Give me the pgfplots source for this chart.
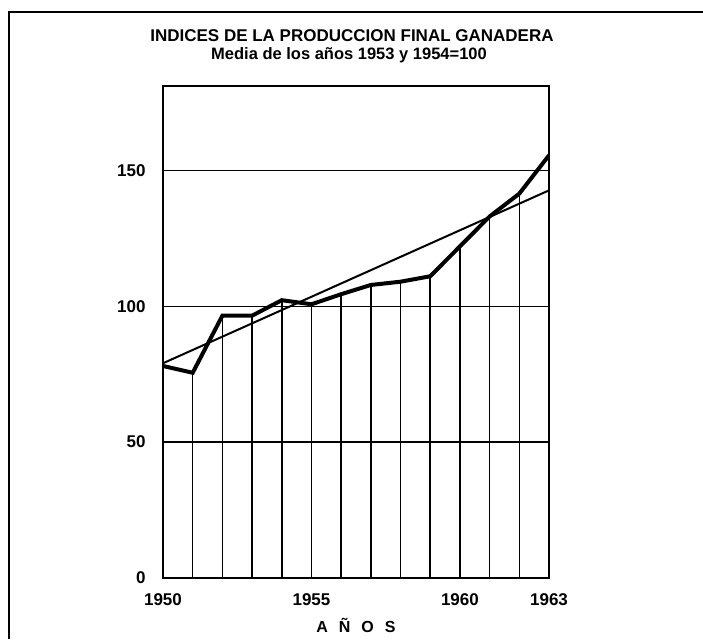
\documentclass[border=0pt]{standalone}
\usepackage{fontspec}
\setmainfont{Liberation Sans}
\usepackage{pgfplots}
\pgfplotsset{compat=1.18}

% indices de la produccion final ganadera (media 1953-1954 = 100)
\pgfplotstableread{
year  idx
1950  78
1951  75.5
1952  96.5
1953  96.5
1954  102.2
1955  100.7
1956  104.4
1957  107.8
1958  109
1959  111
1960  122
1961  133
1962  141.4
1963  155.5
}\indices

\pgfplotstableread{
year  idx
1951  75.5
1952  96.5
1953  96.5
1954  102.2
1955  100.7
1956  104.4
1957  107.8
1958  109
1959  111
1960  122
1961  133
1962  141.4
}\verticals

\begin{document}
\begin{tikzpicture}[x=1pt,y=1pt]
\useasboundingbox (0,0) rectangle (703,639);
% outer frame (left and top only)
\draw[line width=2.5pt] (9,0) -- (9,627) -- (703,627);
\node[font=\bfseries\fontsize{17}{18}\selectfont, anchor=base] at (352,597)
  {INDICES DE LA PRODUCCION FINAL GANADERA};
\node[font=\bfseries\fontsize{16.5}{18}\selectfont, anchor=base] at (349,579)
  {Media de los años 1953 y 1954=100};
\begin{axis}[
  at={(163pt,61pt)}, anchor=south west,
  scale only axis,
  width=386pt, height=492pt,
  xmin=1950, xmax=1963,
  ymin=0, ymax=181,
  xtick={1950,1955,1960,1963},
  xticklabels={1950,1955,1960,1963},
  ytick={0,50,100,150},
  major tick length=0pt,
  ymajorgrids=true,
  grid style={black, line width=1.2pt},
  axis line style={line width=2.5pt},
  /pgf/number format/assume math mode=true,
  /pgf/number format/1000 sep={},
  tick label style={font=\bfseries\fontsize{17}{17}\selectfont},
  yticklabel style={xshift=-14pt},
  xticklabel style={yshift=-12pt},
  xlabel={A\hspace{11pt}Ñ\hspace{11pt}O\hspace{11pt}S},
  xlabel style={at={(axis description cs:0.5,0)}, anchor=north,
    yshift=-37pt, font=\bfseries\fontsize{16}{16}\selectfont},
]
\addplot[ycomb, black, line width=1.6pt, mark=none] table[x=year,y=idx] {\verticals};
\addplot[black, line width=2pt, mark=none] coordinates {(1950,79) (1963,142.6)};
\addplot[black, line width=4pt, mark=none] table[x=year,y=idx] {\indices};
\end{axis}
\end{tikzpicture}
\end{document}
